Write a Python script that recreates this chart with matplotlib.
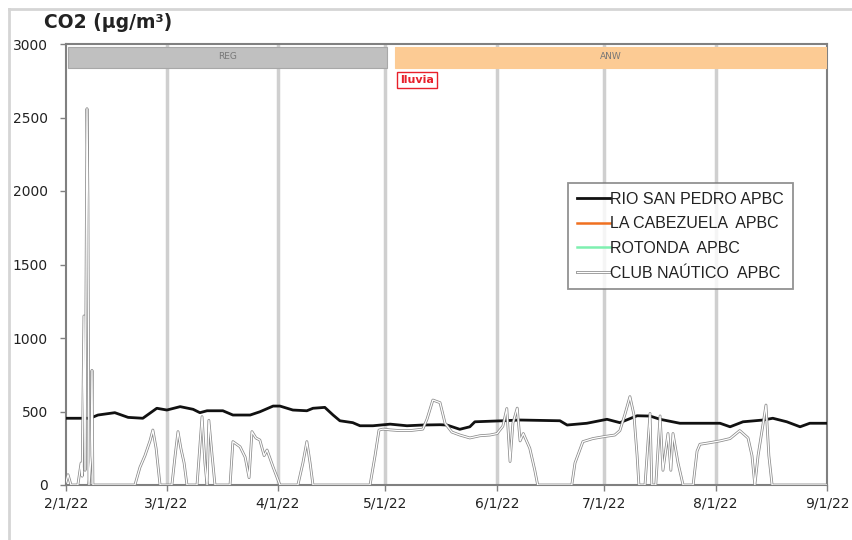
import pandas as pd
import matplotlib.pyplot as plt
import matplotlib.dates as mdates
import matplotlib.patheffects as pe
from matplotlib.lines import Line2D

start = pd.Timestamp('2022-02-01')

# RIO SAN PEDRO APBC (days since 2/1/22, ug/m3)
rio_days = [0, 6.7, 8.9, 13.6, 17.3, 21.4, 25.3, 28.1, 31.8, 35.4, 37.3, 39.3, 43.7, 46.5,
            51.3, 54.0, 57.7, 59.6, 63.2, 67.1, 68.8, 72.1, 74.4, 76.3, 79.9, 81.9, 85.5,
            90.3, 95.0, 99.4, 104.2, 106.1, 109.7, 112.5, 113.9, 121.7, 126.5, 137.6, 139.6,
            145.1, 150.7, 154.3, 159.1, 162.7, 165.5, 171.0, 182.2, 185.0, 188.6, 194.2,
            196.9, 200.8, 204.5, 207.2, 212]
rio_vals = [454, 454, 476, 492, 460, 454, 522, 510, 533, 515, 492, 505, 505, 476,
            476, 498, 537, 537, 510, 505, 522, 528, 476, 437, 424, 403, 403,
            414, 403, 408, 410, 408, 379, 396, 430, 437, 442, 437, 408,
            420, 447, 424, 471, 469, 447, 420, 420, 396, 430, 442,
            454, 430, 396, 420, 420]

# CLUB NAUTICO APBC
club_days = [0, 0.56, 1.4, 3.3, 4.2, 4.5, 5.0, 5.3, 5.85, 6.1, 6.4, 7.0, 7.24, 7.5,
             19.2, 20.6, 22.0, 23.4, 24.2, 25.1, 26.2, 29.5, 30.4, 31.2, 32.0, 32.9, 33.7,
             36.5, 37.9, 38.7, 39.3, 39.8, 40.7, 41.5, 45.7, 46.5, 48.5, 49.9, 51.0, 51.8,
             52.9, 54.0, 55.2, 56.0, 57.7, 59.6, 64.6, 66.0, 67.1, 68.0, 68.8, 84.7, 86.1,
             87.2, 88.3, 90.3, 93.0, 95.8, 99.4, 100.6, 102.2, 104.2, 105.6, 107.5, 109.7,
             112.5, 115.3, 118.1, 120.1, 121.7, 122.8, 123.7, 124.5, 125.7, 126.5, 127.4,
             129.2, 130.6, 131.4, 140.9, 141.8, 144.0, 146.8, 150.1, 152.9, 154.3, 155.7,
             157.1, 158.2, 159.1, 159.6, 161.3, 162.7, 163.2, 164.3, 165.5, 166.3, 167.7,
             168.5, 169.1, 170.5, 171.9, 174.7, 175.8, 176.6, 179.4, 182.2, 185.0, 187.7,
             190.0, 191.1, 191.9, 192.8, 193.9, 195.0, 195.8, 196.7, 212]
club_vals = [20, 70, 0, 0, 150, 60, 1150, 100, 2560, 1950, 0, 200, 780, 0,
             0, 120, 200, 300, 374, 250, 0, 0, 200, 363, 250, 150, 0,
             0, 465, 150, 0, 440, 200, 0, 0, 295, 260, 190, 50, 363,
             320, 306, 200, 238, 122, 0, 0, 150, 295, 150, 0, 0, 200,
             374, 380, 375, 370, 370, 380, 450, 578, 560, 420, 360, 340,
             320, 335, 340, 350, 400, 520, 160, 420, 523, 300, 350,
             250, 100, 0, 0, 150, 295, 316, 330, 340, 370, 480,
             601, 480, 200, 0, 0, 487, 0, 0, 470, 100, 350,
             100, 350, 150, 0, 0, 230, 277, 288, 300, 316, 370,
             320, 200, 0, 200, 370, 544, 200, 0, 0]

# campaign periods shown as bars on top
periods = ['REG', 'ANW']
period_start = [0.56, 91.6]
period_end = [89.4, 212]
period_colors = ['#c0c0c0', '#fccb94']
rain_label = 'lluvia'
rain_day = 91.9

rio_x = start + pd.to_timedelta(rio_days, unit='D')
club_x = start + pd.to_timedelta(club_days, unit='D')

fig = plt.figure(figsize=(8.52, 5.4), dpi=100)
ax = fig.add_axes([66 / 852, 1 - 485 / 540, (827 - 66) / 852, (485 - 44) / 540])

# month gridlines
months = pd.date_range('2022-02-01', '2022-09-01', freq='MS')
for m in months[1:-1]:
    ax.axvline(m, color='#cfcfcf', lw=2.5, zorder=0)

ax.plot(rio_x, rio_vals, color='#111111', lw=2.0, label='RIO SAN PEDRO APBC', zorder=3)
ax.plot([], [], color='#f07020', lw=1.8, label='LA CABEZUELA  APBC')
ax.plot([], [], color='#7ef0b0', lw=1.8, label='ROTONDA  APBC')
ax.plot(club_x, club_vals, color='white', lw=0.9, label='CLUB NAÚTICO  APBC', zorder=4,
        path_effects=[pe.Stroke(linewidth=2.0, foreground='#8a8a8a'), pe.Normal()])

# period bars
for name, s, e, c in zip(periods, period_start, period_end, period_colors):
    left = mdates.date2num(start + pd.Timedelta(days=s))
    right = mdates.date2num(start + pd.Timedelta(days=e))
    ax.barh(2910, right - left, left=left, height=140, color=c,
            edgecolor='#a8a8a8' if name == 'REG' else c, lw=0.8, zorder=5)
    ax.text((left + right) / 2, 2912, name, ha='center', va='center',
            fontsize=6.5, color='#777777', zorder=6)

ax.text(start + pd.Timedelta(days=rain_day + 1.2), 2755, rain_label, ha='left', va='center',
        fontsize=8, fontweight='bold', color='#e8202a', zorder=6,
        bbox=dict(boxstyle='square,pad=0.25', fc='white', ec='#e8202a', lw=1.0))

ax.set_xlim(months[0], months[-1])
ax.set_ylim(0, 3000)
ax.set_yticks(range(0, 3001, 500))
ax.set_xticks(months)
ax.set_xticklabels([f'{d.month}/{d.day}/{d.strftime("%y")}' for d in months])
ax.tick_params(axis='both', labelsize=10, colors='#808080', labelcolor='#222222',
               length=4, width=1)
ax.tick_params(axis='y', pad=9)
ax.tick_params(axis='x', pad=4)
for sp in ax.spines.values():
    sp.set_color('#808080')
    sp.set_linewidth(1.5)

fig.text(44 / 852, 1 - 23 / 540, 'CO2 (µg/m³)', fontsize=13.5, fontweight='bold',
         ha='left', va='center', color='#222222')

leg = ax.legend(loc='upper left', bbox_to_anchor=(568 / 852, 1 - 183 / 540),
                bbox_transform=fig.transFigure, frameon=True, fancybox=False,
                prop={'family': 'Liberation Sans', 'size': 11.5}, handlelength=2.1,
                handletextpad=0.0, labelspacing=0.6, borderpad=0.55, borderaxespad=0)
leg.get_frame().set_edgecolor('#777777')
leg.get_frame().set_linewidth(1.3)
for t in leg.get_texts():
    t.set_color('#222222')

# light frame around the chart area
fig.add_artist(Line2D([9 / 852, 9 / 852], [0, 1 - 9 / 540], color='#d5d5d5', lw=2))
fig.add_artist(Line2D([9 / 852, 1], [1 - 9 / 540, 1 - 9 / 540], color='#d5d5d5', lw=2))

fig.savefig('out.png', dpi=100)
